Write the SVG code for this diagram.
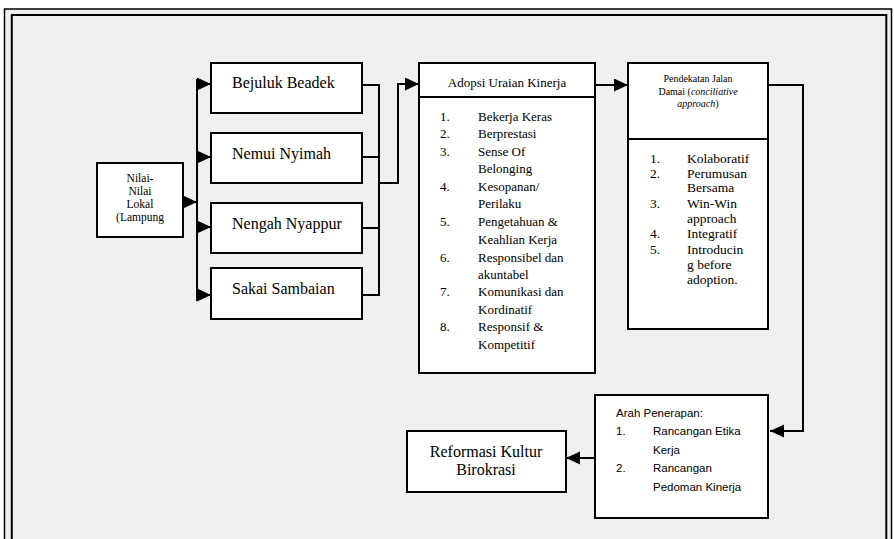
<svg xmlns="http://www.w3.org/2000/svg" width="894" height="539" viewBox="0 0 894 539">
<style>
.box{fill:#fff;stroke:#000;stroke-width:2}
.ln{fill:none;stroke:#000;stroke-width:2}
.serif{font-family:"Liberation Serif","Times New Roman",serif;fill:#000}
.sans{font-family:"Liberation Sans",Arial,sans-serif;fill:#000}
.t16{font-size:16px}
.t13{font-size:13px}
.t10{font-size:10px}
.t11{font-size:11.5px}
.c{text-anchor:middle}
</style>
<defs>
<marker id="ah" markerUnits="userSpaceOnUse" markerWidth="15" markerHeight="14" refX="14" refY="6.5" orient="auto">
<path d="M0,0 L14,6.5 L0,13 Z" fill="#000"/>
</marker>
</defs>
<rect x="0" y="0" width="894" height="539" fill="#fff"/>
<rect x="4.5" y="9" width="887" height="545" fill="#f0f0f0" stroke="#000" stroke-width="1.5"/>
<rect x="11.8" y="15" width="874.5" height="540" fill="none" stroke="#000" stroke-width="2"/>

<g id="connectors">
<line class="ln" x1="183" y1="202" x2="197" y2="202" marker-end="url(#ah)"/>
<line class="ln" x1="197" y1="79" x2="197" y2="301"/>
<line class="ln" x1="197" y1="84" x2="211" y2="84" marker-end="url(#ah)"/>
<line class="ln" x1="197" y1="157" x2="211" y2="157" marker-end="url(#ah)"/>
<line class="ln" x1="197" y1="227" x2="211" y2="227" marker-end="url(#ah)"/>
<line class="ln" x1="197" y1="295" x2="211" y2="295" marker-end="url(#ah)"/>
<path class="ln" d="M362,85 H379 M362,157 H379 M362,228 H379 M362,295 H379 M379,84 V296"/>
<path class="ln" d="M379,183 H398 V84 H419" marker-end="url(#ah)"/>
<line class="ln" x1="595" y1="85" x2="628" y2="85" marker-end="url(#ah)"/>
<path class="ln" d="M768,85 H803 V431 H770" marker-end="url(#ah)"/>
<line class="ln" x1="595" y1="458" x2="566" y2="458" marker-end="url(#ah)"/>
</g>

<g id="nilai">
<rect class="box" x="97" y="163" width="86" height="74"/>
<text class="serif t11 c" x="140" y="182">Nilai-</text>
<text class="serif t11 c" x="140" y="195">Nilai</text>
<text class="serif t11 c" x="140" y="208">Lokal</text>
<text class="serif t11 c" x="140" y="221">(Lampung</text>
</g>

<g id="bejuluk">
<rect class="box" x="211" y="63" width="151" height="50"/>
<text class="serif t16" x="232" y="88">Bejuluk Beadek</text>
</g>
<g id="nemui">
<rect class="box" x="211" y="133" width="151" height="50"/>
<text class="serif t16" x="232" y="159">Nemui Nyimah</text>
</g>
<g id="nengah">
<rect class="box" x="211" y="203" width="151" height="50"/>
<text class="serif t16" x="232" y="229">Nengah Nyappur</text>
</g>
<g id="sakai">
<rect class="box" x="211" y="268" width="151" height="51"/>
<text class="serif t16" x="232" y="294">Sakai Sambaian</text>
</g>

<g id="adopsi">
<rect class="box" x="419" y="63" width="176" height="310"/>
<line class="ln" x1="419" y1="97" x2="595" y2="97"/>
<text class="serif t13 c" x="507" y="87">Adopsi Uraian Kinerja</text>
<g class="serif t13">
<text x="440" y="121">1.</text><text x="478" y="121">Bekerja Keras</text>
<text x="440" y="138">2.</text><text x="478" y="138">Berprestasi</text>
<text x="440" y="156">3.</text><text x="478" y="156">Sense Of</text>
<text x="478" y="173">Belonging</text>
<text x="440" y="191">4.</text><text x="478" y="191">Kesopanan/</text>
<text x="478" y="208">Perilaku</text>
<text x="440" y="226">5.</text><text x="478" y="226">Pengetahuan &amp;</text>
<text x="478" y="244">Keahlian Kerja</text>
<text x="440" y="262">6.</text><text x="478" y="262">Responsibel dan</text>
<text x="478" y="279">akuntabel</text>
<text x="440" y="296">7.</text><text x="478" y="296">Komunikasi dan</text>
<text x="478" y="314">Kordinatif</text>
<text x="440" y="331">8.</text><text x="478" y="331">Responsif &amp;</text>
<text x="478" y="349">Kompetitif</text>
</g>
</g>

<g id="pendekatan">
<rect class="box" x="628" y="63" width="140" height="266"/>
<line class="ln" x1="628" y1="139" x2="768" y2="139"/>
<text class="serif t10 c" x="698" y="82">Pendekatan Jalan</text>
<text class="serif t10 c" x="698" y="95">Damai (<tspan font-style="italic">conciliative</tspan></text>
<text class="serif t10 c" x="698" y="107"><tspan font-style="italic">approach</tspan>)</text>
<g class="serif" font-size="13.5">
<text x="650" y="163">1.</text><text x="687" y="163">Kolaboratif</text>
<text x="650" y="178">2.</text><text x="687" y="178">Perumusan</text>
<text x="687" y="192">Bersama</text>
<text x="650" y="208">3.</text><text x="687" y="208">Win-Win</text>
<text x="687" y="223">approach</text>
<text x="650" y="238">4.</text><text x="687" y="238">Integratif</text>
<text x="650" y="254">5.</text><text x="687" y="254">Introducin</text>
<text x="687" y="269">g before</text>
<text x="687" y="284">adoption.</text>
</g>
</g>

<g id="arah">
<rect class="box" x="595" y="395" width="173" height="123"/>
<g class="sans t11">
<text x="616" y="417">Arah Penerapan:</text>
<text x="616" y="435">1.</text><text x="653" y="435">Rancangan Etika</text>
<text x="653" y="454">Kerja</text>
<text x="616" y="472">2.</text><text x="653" y="472">Rancangan</text>
<text x="653" y="491">Pedoman Kinerja</text>
</g>
</g>

<g id="reformasi">
<rect class="box" x="407" y="431" width="159" height="61"/>
<text class="serif t16 c" x="486" y="457">Reformasi Kultur</text>
<text class="serif t16 c" x="486" y="475">Birokrasi</text>
</g>
</svg>
